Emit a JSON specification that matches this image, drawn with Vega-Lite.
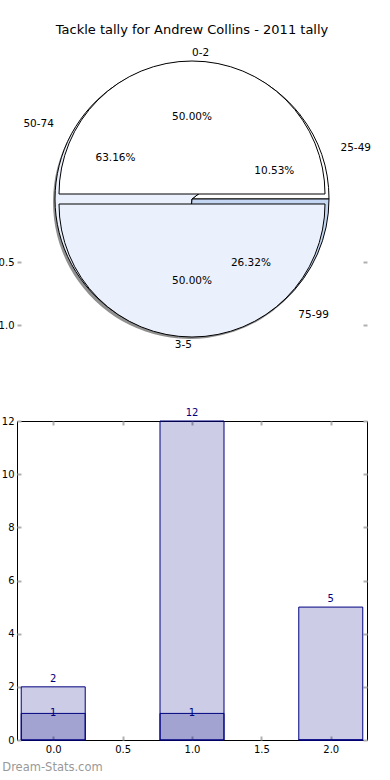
{
  "$schema": "https://vega.github.io/schema/vega-lite/v6.json",
  "autosize": "pad",
  "padding": {"left": -2, "top": 24, "right": 0, "bottom": 0},
  "background": "white",
  "config": {
    "font": "DejaVu Sans",
    "view": {"stroke": null},
    "axis": {"domain": false, "grid": false, "tickColor": "#b0b0b0", "tickWidth": 2, "tickSize": -4, "labelFont": "DejaVu Sans", "labelFontSize": 10, "labelColor": "black", "labelPadding": 7, "title": null},
    "axisX": {"labelPadding": 8},
    "title": {"font": "DejaVu Sans", "fontWeight": "normal", "color": "black"}
  },
  "datasets": {
    "pie1": [
      {"label": "0-2", "count": 1, "pct": "50.00%"},
      {"label": "3-5", "count": 1, "pct": "50.00%"}
    ],
    "pie2": [
      {"label": "25-49", "count": 2, "pct": "10.53%"},
      {"label": "50-74", "count": 12, "pct": "63.16%"},
      {"label": "75-99", "count": 5, "pct": "26.32%"}
    ],
    "bars": [
      {"pos": 0, "series": "all", "value": 2},
      {"pos": 1, "series": "all", "value": 12},
      {"pos": 2, "series": "all", "value": 5},
      {"pos": 0, "series": "sub", "value": 1},
      {"pos": 1, "series": "sub", "value": 1},
      {"pos": 2, "series": "sub", "value": 0}
    ]
  },
  "spacing": 77,
  "bounds": "flush",
  "vconcat": [
    {
      "width": 350,
      "height": 290,
      "title": {"text": "Tackle tally for Andrew Collins - 2011 tally", "fontSize": 13, "offset": 11},
      "layer": [
        {
          "data": {"name": "pie1"},
          "mark": {"type": "rule", "opacity": 0},
          "encoding": {"y": {"datum": 0, "type": "quantitative", "scale": {"domain": [-1.15, 1.15], "reverse": true, "nice": false, "zero": false}, "axis": {"orient": "left", "values": [0.5, 1.0], "format": ".1f"}}}
        },
        {
          "data": {"name": "pie1"},
          "mark": {"type": "rule", "opacity": 0},
          "encoding": {"y": {"datum": 0, "type": "quantitative", "scale": {"domain": [-1.15, 1.15], "reverse": true, "nice": false, "zero": false}, "axis": {"orient": "right", "values": [0.5, 1.0], "labels": false}}}
        },
        {
          "data": {"name": "pie2"},
          "mark": {"type": "arc", "radius": 137, "fill": "#909090", "xOffset": -2, "yOffset": 3},
          "encoding": {
            "theta": {"field": "count", "type": "quantitative", "stack": "normalize", "scale": {"range": [1.5708, -4.7124]}},
            "order": {"field": "label"}
          }
        },
        {
          "data": {"name": "pie2"},
          "mark": {"type": "arc", "radius": 137, "stroke": "black", "strokeWidth": 1},
          "encoding": {
            "theta": {"field": "count", "type": "quantitative", "stack": "normalize"},
            "color": {"field": "label", "type": "nominal", "legend": null, "scale": {"domain": ["0-2", "3-5", "25-49", "50-74", "75-99"], "range": ["#ffffff", "#eaf0fc", "#ffffff", "#eaf0fc", "#c4d6f2"]}},
            "order": {"field": "label"}
          }
        },
        {
          "data": {"name": "pie1"},
          "mark": {"type": "arc", "radius": 133, "stroke": "black", "strokeWidth": 1, "yOffset": -5},
          "encoding": {
            "theta": {"field": "count", "type": "quantitative", "stack": "normalize"},
            "color": {"field": "label", "type": "nominal", "legend": null},
            "order": {"field": "label"},
            "opacity": {"condition": {"test": "datum.label === '0-2'", "value": 1}, "value": 0}
          }
        },
        {
          "data": {"name": "pie1"},
          "mark": {"type": "arc", "radius": 133, "stroke": "black", "strokeWidth": 1, "yOffset": 5},
          "encoding": {
            "theta": {"field": "count", "type": "quantitative", "stack": "normalize"},
            "color": {"field": "label", "type": "nominal", "legend": null},
            "order": {"field": "label"},
            "opacity": {"condition": {"test": "datum.label === '3-5'", "value": 1}, "value": 0}
          }
        },
        {
          "data": {"name": "pie1"},
          "mark": {"type": "text", "radius": 141, "yOffset": -5, "align": "left", "baseline": "middle", "fontSize": 10.5, "color": "black"},
          "encoding": {
            "theta": {"field": "count", "type": "quantitative", "stack": "normalize"},
            "detail": {"field": "label"},
            "order": {"field": "label"},
            "text": {"field": "label"},
            "opacity": {"condition": {"test": "datum.label === '0-2'", "value": 1}, "value": 0}
          }
        },
        {
          "data": {"name": "pie1"},
          "mark": {"type": "text", "radius": 141, "yOffset": 5, "align": "right", "baseline": "middle", "fontSize": 10.5, "color": "black"},
          "encoding": {
            "theta": {"field": "count", "type": "quantitative", "stack": "normalize"},
            "detail": {"field": "label"},
            "order": {"field": "label"},
            "text": {"field": "label"},
            "opacity": {"condition": {"test": "datum.label === '3-5'", "value": 1}, "value": 0}
          }
        },
        {
          "data": {"name": "pie1"},
          "mark": {"type": "text", "radius": 77, "yOffset": -5, "align": "center", "baseline": "middle", "fontSize": 10.5, "color": "black"},
          "encoding": {
            "theta": {"field": "count", "type": "quantitative", "stack": "normalize"},
            "detail": {"field": "label"},
            "order": {"field": "label"},
            "text": {"field": "pct"},
            "opacity": {"condition": {"test": "datum.label === '0-2'", "value": 1}, "value": 0}
          }
        },
        {
          "data": {"name": "pie1"},
          "mark": {"type": "text", "radius": 77, "yOffset": 5, "align": "center", "baseline": "middle", "fontSize": 10.5, "color": "black"},
          "encoding": {
            "theta": {"field": "count", "type": "quantitative", "stack": "normalize"},
            "detail": {"field": "label"},
            "order": {"field": "label"},
            "text": {"field": "pct"},
            "opacity": {"condition": {"test": "datum.label === '3-5'", "value": 1}, "value": 0}
          }
        },
        {
          "data": {"name": "pie2"},
          "mark": {"type": "text", "radius": 157, "align": "right", "baseline": "middle", "fontSize": 10.5, "color": "black"},
          "encoding": {
            "theta": {"field": "count", "type": "quantitative", "stack": "normalize"},
            "detail": {"field": "label"},
            "order": {"field": "label"},
            "text": {"field": "label"},
            "opacity": {"condition": {"test": "datum.label === '50-74'", "value": 1}, "value": 0}
          }
        },
        {
          "data": {"name": "pie2"},
          "mark": {"type": "text", "radius": 157, "align": "left", "baseline": "middle", "fontSize": 10.5, "color": "black"},
          "encoding": {
            "theta": {"field": "count", "type": "quantitative", "stack": "normalize"},
            "detail": {"field": "label"},
            "order": {"field": "label"},
            "text": {"field": "label"},
            "opacity": {"condition": {"test": "datum.label !== '50-74'", "value": 1}, "value": 0}
          }
        },
        {
          "data": {"name": "pie2"},
          "mark": {"type": "text", "radius": 87, "align": "center", "baseline": "middle", "fontSize": 10.5, "color": "black"},
          "encoding": {
            "theta": {"field": "count", "type": "quantitative", "stack": "normalize"},
            "detail": {"field": "label"},
            "order": {"field": "label"},
            "text": {"field": "pct"}
          }
        }
      ],
      "resolve": {"scale": {"y": "independent"}, "axis": {"y": "independent"}}
    },
    {
      "data": {"name": "bars"},
      "width": 350,
      "height": 319,
      "view": {"stroke": "black", "strokeWidth": 1},
      "title": {"text": "Dream-Stats.com", "orient": "bottom", "anchor": "start", "dx": 1, "offset": 8, "fontSize": 11.5, "color": "#999999"},
      "layer": [
        {
          "transform": [{"filter": "datum.series === 'all'"}],
          "mark": {"type": "bar", "width": 64, "fill": "#000080", "fillOpacity": 0.2, "stroke": "#000080", "strokeWidth": 1},
          "encoding": {
            "x": {"field": "pos", "type": "quantitative", "scale": {"domain": [-0.225, 2.225], "nice": false, "zero": false}, "axis": {"orient": "bottom", "values": [0, 0.5, 1, 1.5, 2], "format": ".1f"}},
            "y": {"field": "value", "type": "quantitative", "scale": {"domain": [0, 12], "nice": false}, "axis": {"orient": "left", "values": [0, 2, 4, 6, 8, 10, 12], "format": "d"}}
          }
        },
        {
          "transform": [{"filter": "datum.series === 'sub'"}],
          "mark": {"type": "bar", "width": 64, "fill": "#000080", "fillOpacity": 0.2, "stroke": "#000080", "strokeWidth": 1},
          "encoding": {
            "x": {"field": "pos", "type": "quantitative", "axis": {"orient": "top", "values": [0, 0.5, 1, 1.5, 2], "labels": false}},
            "y": {"field": "value", "type": "quantitative", "axis": {"orient": "right", "values": [0, 2, 4, 6, 8, 10, 12], "labels": false}}
          }
        },
        {
          "transform": [{"filter": "datum.series === 'all'"}],
          "mark": {"type": "text", "color": "#000080", "fontSize": 10, "baseline": "alphabetic", "dy": -5},
          "encoding": {
            "x": {"field": "pos", "type": "quantitative", "axis": null},
            "y": {"field": "value", "type": "quantitative", "axis": null},
            "text": {"field": "value"}
          }
        },
        {
          "transform": [{"filter": "datum.series === 'sub' && datum.value > 0"}],
          "mark": {"type": "text", "color": "#000080", "fontSize": 10, "baseline": "middle", "dy": 0},
          "encoding": {
            "x": {"field": "pos", "type": "quantitative", "axis": null},
            "y": {"field": "value", "type": "quantitative", "axis": null},
            "text": {"field": "value"}
          }
        }
      ],
      "resolve": {"axis": {"x": "independent", "y": "independent"}}
    }
  ]
}
